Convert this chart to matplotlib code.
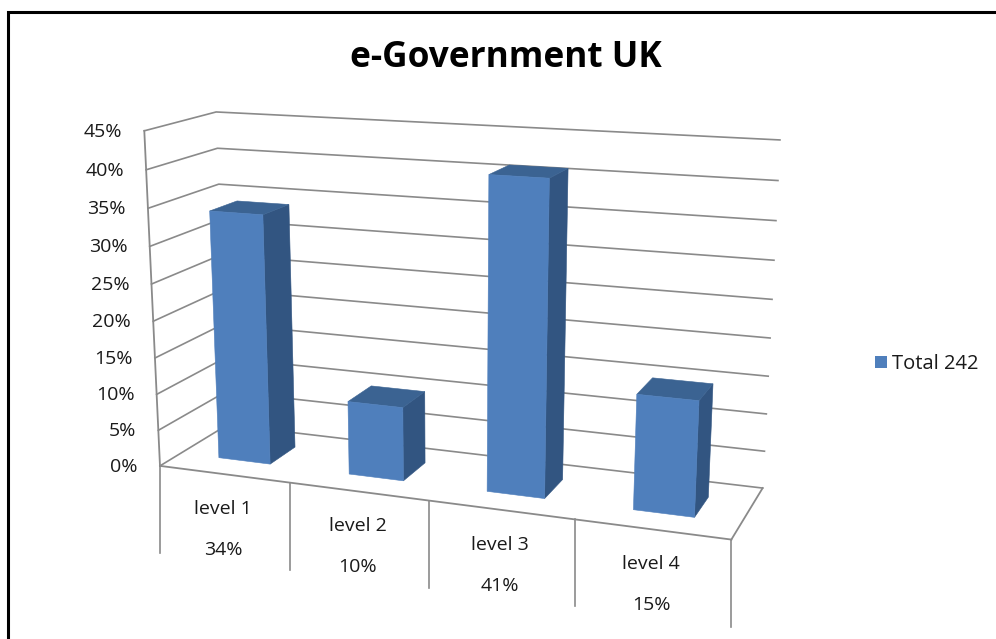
import numpy as np
import matplotlib
matplotlib.use("Agg")
import matplotlib.pyplot as plt
from matplotlib.patches import Polygon, Patch

plt.rcParams['font.family'] = ['Open Sans', 'DejaVu Sans']

# Data
categories = ["level 1", "level 2", "level 3", "level 4"]
shares = [34, 10, 41, 15]
tick_values = [0, 5, 10, 15, 20, 25, 30, 35, 40, 45]
series_name = "Total 242"

# Colours
FRONT = "#4F7FBC"
SIDE = "#325581"
TOP = "#3B6392"
GRID = "#8A8A8A"
TEXT = "#1A1A1A"

# Box coordinates (category, depth, percent) and where they land in pixels,
# used to solve the camera matrix of the 3D scene
box_pts = [(0, 0, 0), (0, 0, 35), (0, 0, 40), (0, 0, 45), (0, 1, 45), (0, 1, 0),
           (4, 1, 45), (4, 1, 40), (4, 1, 35), (4, 1, 0), (4, 0, 0),
           (1, 0, 0), (2, 0, 0), (3, 0, 0)]
box_px = [(160, 466), (150, 208), (147, 169), (143, 131), (215, 112), (228, 425),
          (780, 140), (778, 181), (776, 221), (763, 487), (732, 539),
          (289, 483), (429, 501), (574, 520)]


def solve_camera(pts, px):
    rows = []
    for (u, v, w), (x, y) in zip(pts, px):
        X = [u, v, w / 45, 1]
        x, y = x / 1000, y / 1000
        rows.append(X + [0, 0, 0, 0] + [-x * c for c in X])
        rows.append([0, 0, 0, 0] + X + [-y * c for c in X])
    return np.linalg.svd(np.array(rows))[2][-1].reshape(3, 4)


CAM = solve_camera(box_pts, box_px)


def project(u, v, w):
    p = CAM @ np.array([u, v, w / 45, 1])
    return p[0] / p[2] * 1000, p[1] / p[2] * 1000


fig = plt.figure(figsize=(9.96, 6.39), dpi=100)
ax = fig.add_axes([0, 0, 1, 1])
ax.set_xlim(0, 996)
ax.set_ylim(639, 0)
ax.axis("off")

# Frame of the chart area, open on the right and at the bottom
ax.plot([7.5, 7.5, 996], [639, 11.5, 11.5], color="black", lw=2.2,
        solid_joinstyle="miter", zorder=1)

ax.text(506, 58, "e-Government UK", fontsize=25.4, fontweight="bold",
        ha="center", va="center", color="black")

n = len(categories)

# Gridlines on the side wall and the back wall
for t in tick_values:
    a, b, c = project(0, 0, t), project(0, 1, t), project(n, 1, t)
    ax.plot([a[0], b[0], c[0]], [a[1], b[1], c[1]], color=GRID, lw=1.2, zorder=2)
    ax.text(a[0] - 22, a[1] + 1, f"{t}%", fontsize=14, ha="right", va="center",
            color=TEXT)

# Value axis and floor outline
for p0, p1 in [(project(0, 0, 0), project(0, 0, 45)),
               (project(0, 0, 0), project(n, 0, 0)),
               (project(n, 0, 0), project(n, 1, 0))]:
    ax.plot([p0[0], p1[0]], [p0[1], p1[1]], color=GRID, lw=1.3, zorder=2)

# Separators hanging below the front edge of the floor
for i in range(n + 1):
    x, y = project(i, 0, 0)
    ax.plot([x, x], [y, y + 87], color=GRID, lw=1.2, zorder=2)

# Category table under the floor
for i, (name, val) in enumerate(zip(categories, shares)):
    x, y = project(i + 0.5, 0, 0)
    ax.text(x - 1, y + 35, name, fontsize=14, ha="center", va="center", color=TEXT)
    ax.text(x - 1, y + 76, f"{val}%", fontsize=14, ha="center", va="center", color=TEXT)

# Bars, each one a box of three visible faces
gap = 0.3
d0, d1 = 0.3, 0.7
for i, val in enumerate(shares):
    u0, u1 = i + gap, i + 1 - gap
    front = [project(u0, d0, 0), project(u1, d0, 0), project(u1, d0, val), project(u0, d0, val)]
    side = [project(u1, d0, 0), project(u1, d1, 0), project(u1, d1, val), project(u1, d0, val)]
    top = [project(u0, d0, val), project(u1, d0, val), project(u1, d1, val), project(u0, d1, val)]
    for face, col in [(side, SIDE), (top, TOP), (front, FRONT)]:
        ax.add_patch(Polygon(face, closed=True, facecolor=col, edgecolor=col, lw=0.4, zorder=3))

ax.legend(handles=[Patch(facecolor=FRONT, label=series_name)], loc="center left",
          bbox_to_anchor=(857, 364), bbox_transform=ax.transData, frameon=False,
          fontsize=14.5, handlelength=0.6, handleheight=0.6, handletextpad=0.25,
          labelcolor=TEXT)

fig.savefig("out.png", dpi=100)
